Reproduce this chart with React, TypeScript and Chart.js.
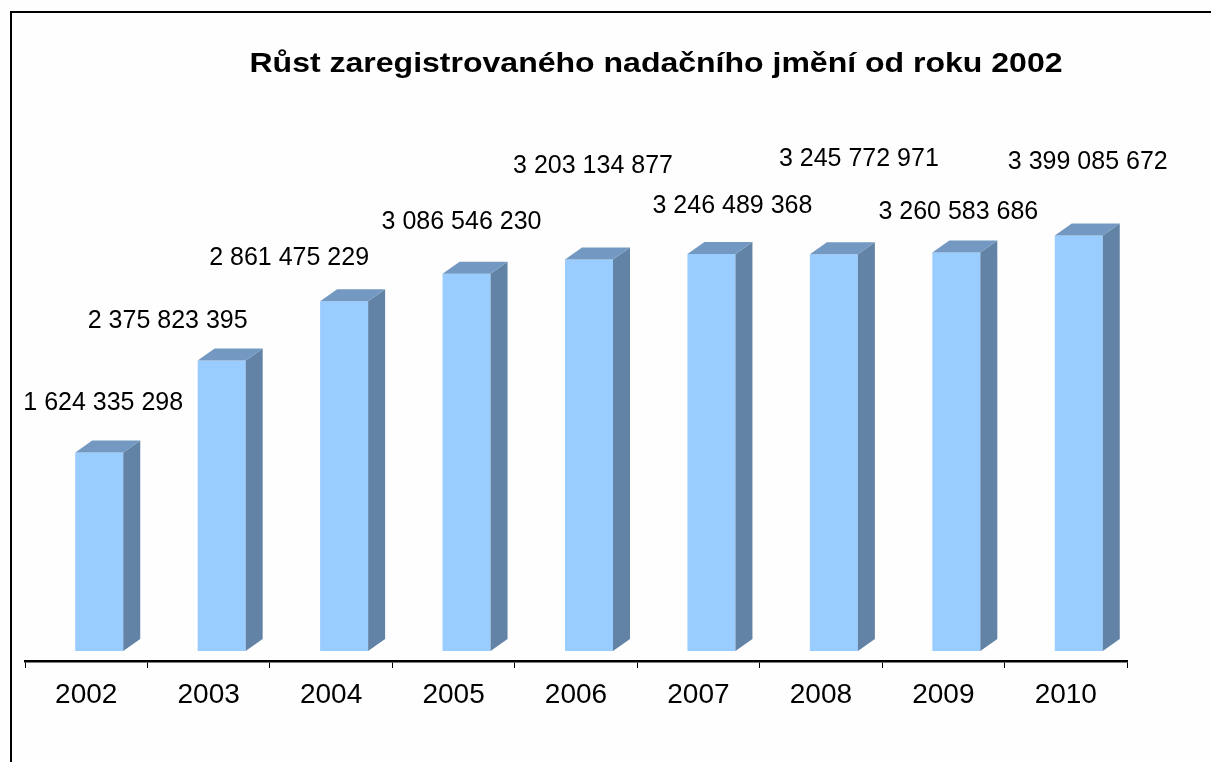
import React, { useEffect, useRef } from "react";
import { Chart, registerables } from "chart.js";

Chart.register(...registerables);

const TITLE = "Růst zaregistrovaného nadačního jmění od roku 2002";
const YEARS = ["2002", "2003", "2004", "2005", "2006", "2007", "2008", "2009", "2010"];
const ENDOWMENT = [
  1624335298, 2375823395, 2861475229, 3086546230, 3203134877,
  3246489368, 3245772971, 3260583686, 3399085672,
];
const VALUE_LABELS = ENDOWMENT.map((v) => String(v).replace(/\B(?=(\d{3})+(?!\d))/g, " "));

// layout / style constants (not data)
const LABEL_DX = [4, -54, -55, -5, 4, 21, 25, 2, 9];
const LABEL_DY = [-49, -39, -43, -51.5, -93, -48, -95, -40, -73];
const DEPTH_X = 17;
const DEPTH_Y = 12;
const SHIFT = 13;
const FRONT = "#99CCFF";
const SIDE = "#6283A6";
const TOP = "#7399C2";
const FONT = '"Liberation Sans", Arial, sans-serif';
const TITLE_CENTER_X = 656;
const TITLE_WIDTH = 813;

const bar3d = {
  id: "bar3d",
  beforeDraw(chart: any) {
    const { ctx, width, height } = chart;
    ctx.save();
    ctx.fillStyle = "#fefefe";
    ctx.fillRect(0, 0, width, height);
    ctx.strokeStyle = "#000";
    ctx.lineWidth = 2;
    ctx.strokeRect(11, 12, width + 100, height + 100);
    ctx.restore();
  },
  beforeDatasetsDraw(chart: any) {
    chart.ctx.save();
    chart.ctx.translate(SHIFT, 0);
  },
  afterDatasetsDraw(chart: any) {
    const { ctx } = chart;
    const meta = chart.getDatasetMeta(0);
    meta.data.forEach((el: any) => {
      const p = el.getProps(["x", "y", "base", "width"], true);
      const L = p.x - p.width / 2;
      const R = p.x + p.width / 2;
      const T = p.y;
      const B = p.base;
      ctx.fillStyle = SIDE;
      ctx.beginPath();
      ctx.moveTo(R, T);
      ctx.lineTo(R + DEPTH_X, T - DEPTH_Y);
      ctx.lineTo(R + DEPTH_X, B - DEPTH_Y);
      ctx.lineTo(R, B);
      ctx.closePath();
      ctx.fill();
      ctx.fillStyle = TOP;
      ctx.beginPath();
      ctx.moveTo(L, T);
      ctx.lineTo(L + DEPTH_X, T - DEPTH_Y);
      ctx.lineTo(R + DEPTH_X, T - DEPTH_Y);
      ctx.lineTo(R, T);
      ctx.closePath();
      ctx.fill();
    });
    ctx.restore();
  },
  afterDraw(chart: any) {
    const { ctx } = chart;
    const meta = chart.getDatasetMeta(0);
    ctx.save();
    ctx.fillStyle = "#000";
    ctx.textAlign = "center";
    ctx.textBaseline = "middle";
    ctx.font = `25px ${FONT}`;
    meta.data.forEach((el: any, i: number) => {
      ctx.fillText(VALUE_LABELS[i], el.x + SHIFT + LABEL_DX[i], el.y + LABEL_DY[i]);
    });
    ctx.font = `bold 28px ${FONT}`;
    ctx.textBaseline = "alphabetic";
    const w = ctx.measureText(TITLE).width;
    const sx = TITLE_WIDTH / w;
    ctx.translate(TITLE_CENTER_X, 72);
    ctx.scale(sx, 1);
    ctx.fillText(TITLE, 0, 0);
    ctx.restore();
  },
};

export default function App() {
  const ref = useRef<HTMLCanvasElement>(null);
  useEffect(() => {
    if (!ref.current) return;
    const chart = new Chart(ref.current, {
      type: "bar",
      data: {
        labels: YEARS,
        datasets: [
          {
            data: ENDOWMENT,
            backgroundColor: FRONT,
            borderWidth: 0,
            barPercentage: 1,
            categoryPercentage: 48 / 122.44,
          },
        ],
      },
      options: {
        animation: false,
        responsive: true,
        maintainAspectRatio: false,
        layout: { padding: { left: 25, right: 84, top: 162, bottom: 51 } },
        plugins: {
          legend: { display: false },
          title: { display: false },
          tooltip: { enabled: false },
        },
        scales: {
          x: {
            grid: {
              offset: true,
              drawOnChartArea: false,
              drawTicks: true,
              tickLength: 7,
              color: "#000",
              lineWidth: 1,
            },
            border: { display: true, color: "#000", width: 2.5 },
            ticks: {
              color: "#000",
              padding: 10,
              font: { family: FONT, size: 28 },
            },
            afterFit(scale: any) {
              scale.height = 50;
            },
          },
          y: {
            display: false,
            min: -81800000,
            max: 4000000000,
          },
        },
      },
      plugins: [bar3d],
    });
    return () => chart.destroy();
  }, []);
  return (
    <div style={{ position: "absolute", left: 0, top: 0, width: 1211, height: 762 }}>
      <canvas ref={ref} />
    </div>
  );
}
